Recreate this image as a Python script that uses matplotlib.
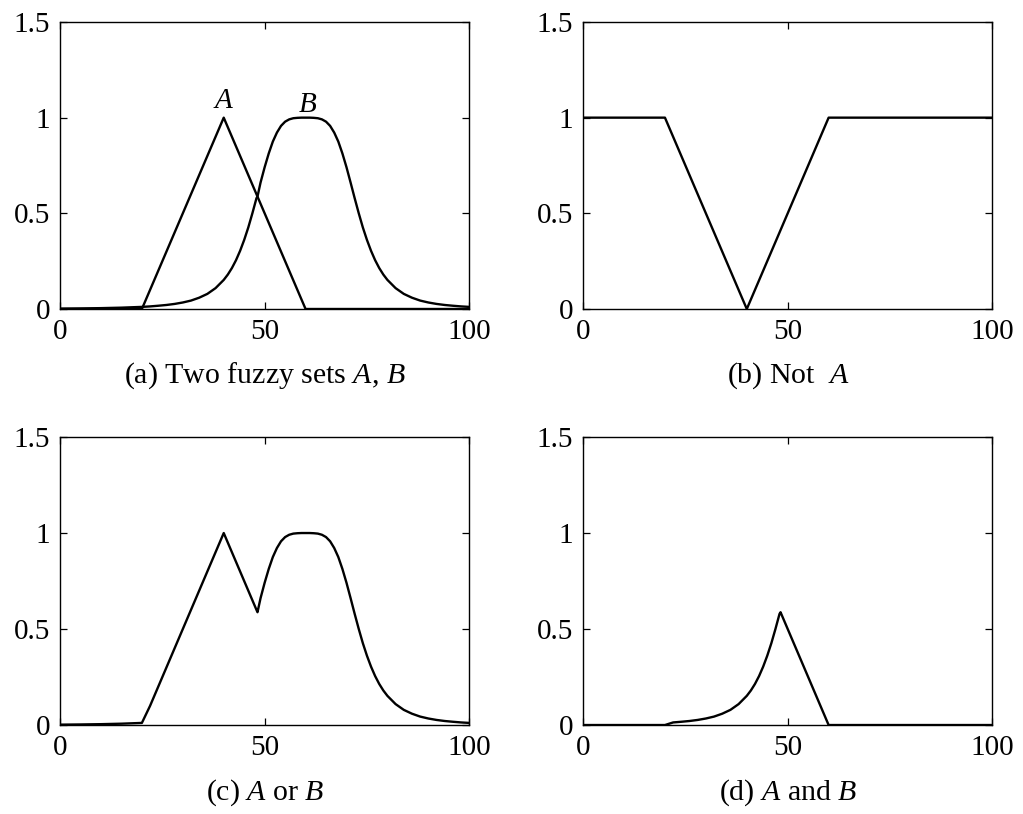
import numpy as np
import matplotlib
matplotlib.use("Agg")
import matplotlib.pyplot as plt

plt.rcParams['font.family'] = ['Liberation Serif', 'DejaVu Serif']
plt.rcParams['mathtext.fontset'] = 'custom'
plt.rcParams['mathtext.rm'] = 'Liberation Serif'
plt.rcParams['mathtext.it'] = 'Liberation Serif:italic'

# sample points
x_pts = [0, 5, 10, 15, 20, 22, 24, 26, 28, 30, 32, 34, 36, 38, 40, 41, 42, 43, 44, 45,
         46, 47, 48, 48.25, 49, 50, 51, 52, 53, 54, 55, 56, 57, 58, 59, 60, 61, 62, 63,
         64, 65, 66, 67, 68, 69, 70, 71, 72, 73, 74, 75, 76, 77, 78, 79, 80,
         82, 84, 86, 88, 90, 92, 94, 96, 98, 100]
set_a = [0, 0, 0, 0, 0, 0.1, 0.2, 0.3, 0.4, 0.5, 0.6, 0.7, 0.8, 0.9, 1.0, 0.95, 0.9, 0.85,
         0.8, 0.75, 0.7, 0.65, 0.6, 0.5875, 0.55, 0.5, 0.45, 0.4, 0.35, 0.3, 0.25, 0.2,
         0.15, 0.1, 0.05, 0, 0, 0, 0, 0, 0, 0, 0, 0, 0, 0, 0, 0, 0, 0, 0, 0, 0, 0, 0, 0,
         0, 0, 0, 0, 0, 0, 0, 0, 0, 0]
set_b = [0.002, 0.003, 0.0045, 0.007, 0.011, 0.0135, 0.017, 0.021, 0.0265, 0.034, 0.044,
         0.059, 0.079, 0.109, 0.152, 0.180, 0.214, 0.255, 0.304, 0.361, 0.426, 0.5, 0.579,
         0.5875, 0.661, 0.741, 0.813, 0.875, 0.922, 0.957, 0.979, 0.991, 0.997, 0.999, 1.0,
         1.0, 1.0, 0.999, 0.997, 0.991, 0.979, 0.957, 0.922, 0.875, 0.813, 0.741, 0.661,
         0.579, 0.5, 0.426, 0.361, 0.304, 0.255, 0.214, 0.180, 0.152,
         0.109, 0.079, 0.059, 0.044, 0.034, 0.0265, 0.021, 0.017, 0.0135, 0.011]

x = np.array(x_pts)
a = np.array(set_a)
b = np.array(set_b)

captions = [r"(a) Two fuzzy sets $A$, $B$", r"(b) Not  $A$",
            r"(c) $A$ or $B$", r"(d) $A$ and $B$"]

fig = plt.figure(figsize=(10.23, 8.14), dpi=100)
boxes = [[0.0587, 0.6204, 0.4, 0.3526], [0.57, 0.6204, 0.4, 0.3526],
         [0.0587, 0.1093, 0.4, 0.3538], [0.57, 0.1093, 0.4, 0.3538]]
axs = [fig.add_axes(bx) for bx in boxes]

lw = 1.7
fs = 21
axs[0].plot(x, a, 'k-', lw=lw)
axs[0].plot(x, b, 'k-', lw=lw)
axs[0].text(40, 1.02, r"$A$", ha='center', va='bottom', fontsize=fs)
axs[0].text(60.5, 1.0, r"$B$", ha='center', va='bottom', fontsize=fs)
axs[1].plot(x, 1 - a, 'k-', lw=lw)
axs[2].plot(x, np.maximum(a, b), 'k-', lw=lw)
axs[3].plot(x, np.minimum(a, b), 'k-', lw=lw)

for ax, cap in zip(axs, captions):
    ax.set_xlim(0, 100)
    ax.set_ylim(0, 1.5)
    ax.set_xticks([0, 50, 100])
    ax.set_xticklabels(['0', '50', '100'])
    ax.set_yticks([0, 0.5, 1, 1.5])
    ax.set_yticklabels(['0', '0.5', '1', '1.5'])
    ax.tick_params(direction='in', top=True, right=True, length=5, width=0.9,
                   labelsize=fs, pad=7)
    for s in ax.spines.values():
        s.set_linewidth(1.0)
    ax.text(0.5, -0.18, cap, transform=ax.transAxes, ha='center', va='top',
            fontsize=21.5)

fig.savefig('out.png', dpi=100)
